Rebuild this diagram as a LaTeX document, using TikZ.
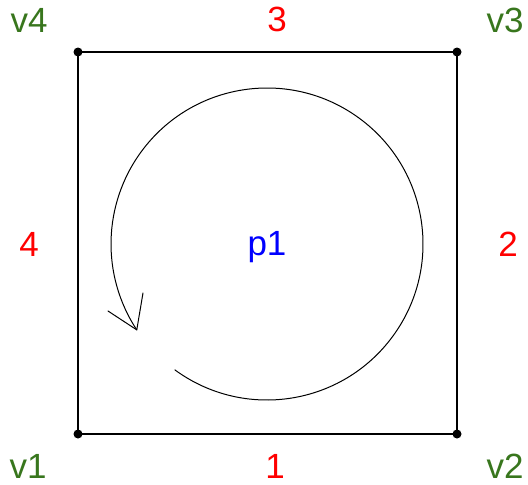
\documentclass[tikz,border=0pt]{standalone}
\usepackage{fontspec}
\setmainfont{Liberation Sans}
\usetikzlibrary{calc}
\definecolor{vgreen}{HTML}{38761D}
\definecolor{ered}{HTML}{FF0000}
\definecolor{pblue}{HTML}{0000FF}
\begin{document}
\begin{tikzpicture}[x=1pt,y=-1pt,
  vdot/.style={circle,fill=black,inner sep=0pt,minimum size=9pt},
  vlabel/.style={text=vgreen,font=\fontsize{35}{42}\selectfont,inner sep=0pt},
  elabel/.style={text=ered,font=\fontsize{35}{42}\selectfont,inner sep=0pt},
  plabel/.style={text=pblue,font=\fontsize{35}{42}\selectfont,inner sep=0pt},
  edge/.style={line width=1.1pt},
  loop/.style={line width=1pt,line cap=round,line join=round}]
\useasboundingbox (0,0) rectangle (528,485);
\node[vdot] (v1) at (78,434) {};
\node[vdot] (v2) at (457,434) {};
\node[vdot] (v3) at (457,52) {};
\node[vdot] (v4) at (78,52) {};
\draw[edge] (v1.center) -- (v2.center) -- (v3.center) -- (v4.center) -- cycle;
\node[vlabel] (l1) at (28,466) {v1};
\node[vlabel] (l2) at (505,466) {v2};
\node[vlabel] (l3) at (505,20) {v3};
\node[vlabel] (l4) at (29,20) {v4};
\node[elabel] (e1) at (275,466) {1};
\node[elabel] (e2) at (508,244) {2};
\node[elabel] (e3) at (277,19) {3};
\node[elabel] (e4) at (29,244) {4};
\node[plabel] (p1) at (267,247) {p1};
\coordinate (c) at (267,244);
\coordinate (s) at ($(c)+(126.2:156)$);
\coordinate (tip) at ($(c)+(-213.4:156)$);
\coordinate (h1) at (108,311);
\coordinate (h2) at (143,293);
\draw[loop] (s) arc[start angle=126.2,end angle=-213.4,radius=156];
\draw[loop] (h1) -- (tip) -- (h2);
\end{tikzpicture}
\end{document}
